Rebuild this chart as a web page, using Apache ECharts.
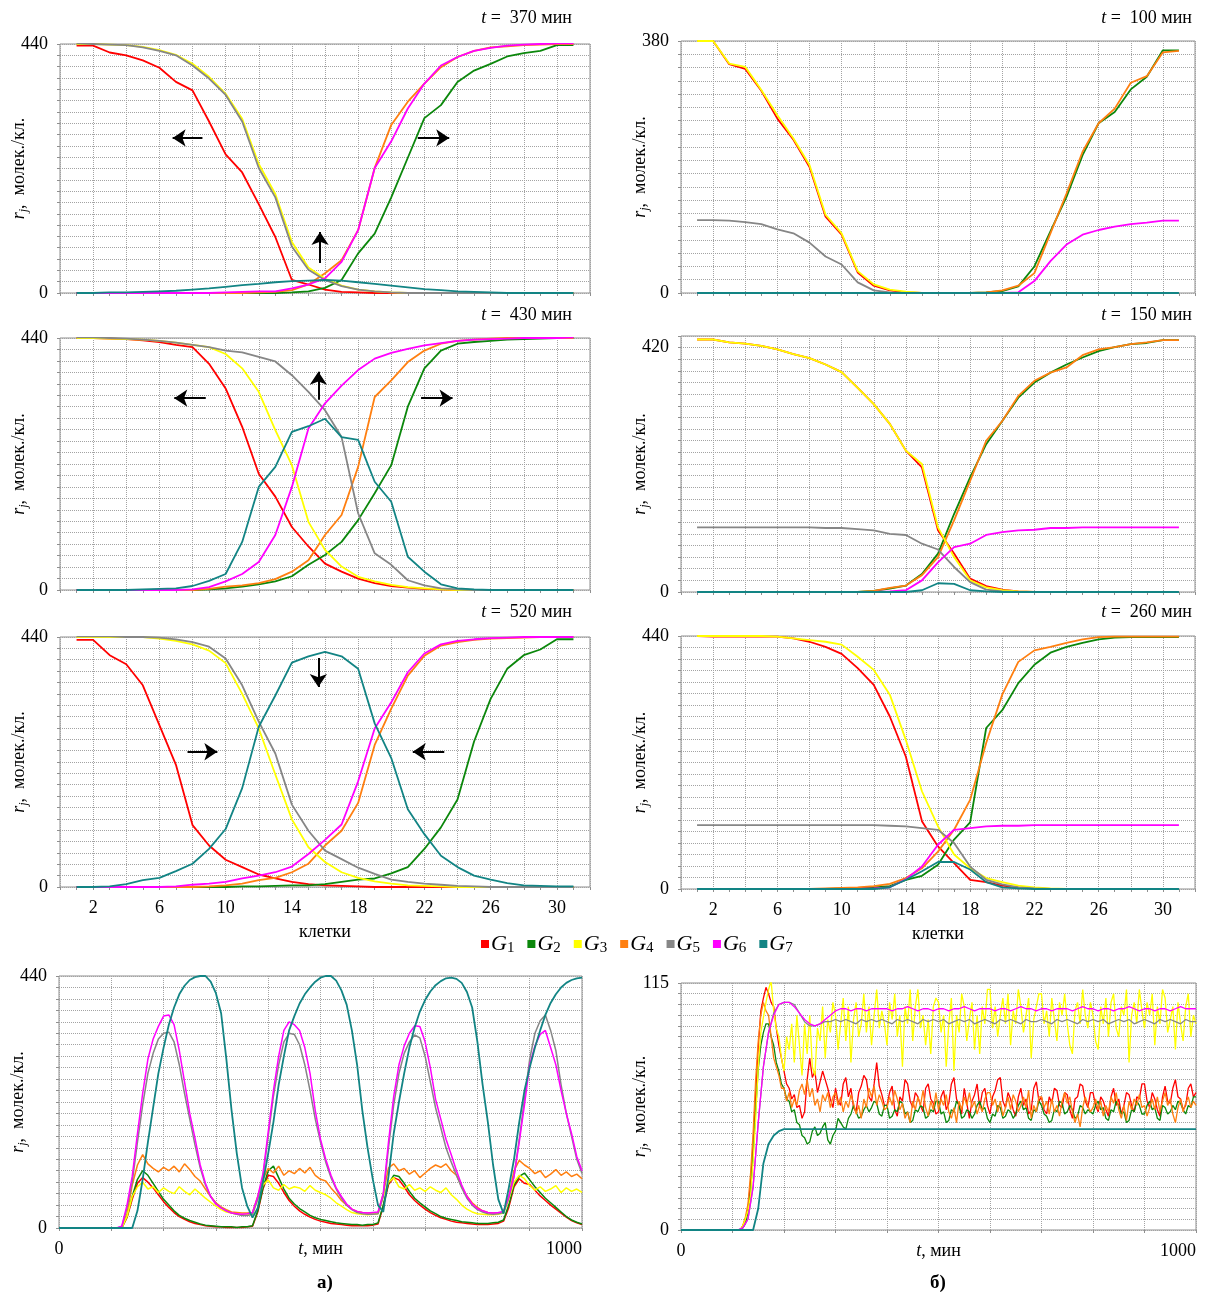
<!DOCTYPE html>
<html>
<head>
<meta charset="utf-8">
<script src="https://cdn.jsdelivr.net/npm/echarts/dist/echarts.min.js"></script>
<style>
html, body { margin: 0; padding: 0; background: #fff; }
#chart { width: 1210px; height: 1296px; }
</style>
</head>
<body>
<div id="chart"></div>
<script>
// клетки 1..31
const cells = [1,2,3,4,5,6,7,8,9,10,11,12,13,14,15,16,17,18,19,20,21,22,23,24,25,26,27,28,29,30,31];

// t = 370 мин
const r370 = [437,437,425,420,411,398,373,358,303,245,213,157,99,23,15,6,2,1,0,0,0,0,0,0,0,0,0,0,0,0,0];
const g370 = [0,0,0,0,0,0,0,0,0,0,0,0,0,1,3,9,23,70,105,169,239,309,332,373,393,405,418,424,428,438,438];
const y370 = [440,440,439,438,435,429,421,405,382,352,308,228,175,90,45,25,13,6,3,1,0,0,0,0,0,0,0,0,0,0,0];
const o370 = [0,0,0,0,0,0,0,0,0,0,0,1,2,5,15,35,58,111,221,297,338,370,399,417,428,434,436,438,439,440,440];
const gr370 = [441,440,439,438,434,428,420,402,379,350,303,221,169,82,41,23,12,6,3,1,0,0,0,0,0,0,0,0,0,0,0];
const m370 = [0,0,0,0,0,0,0,0,0,1,2,3,3,8,15,26,55,111,221,268,326,370,402,417,428,433,437,439,440,441,441];
const t370 = [0,0,1,1,2,3,4,6,8,11,14,16,19,21,22,23,22,19,16,13,10,7,5,3,2,1,0,0,0,0,0];

// t = 430 мин
const r430 = [440,440,439,438,436,433,428,424,395,352,285,203,163,110,76,46,32,20,12,7,4,2,1,0,0,0,0,0,0,0,0];
const g430 = [0,0,0,0,0,0,0,0,1,3,6,10,15,24,44,61,84,122,169,218,320,387,418,430,433,435,437,438,439,440,440];
const y430 = [440,440,439,438,437,435,432,428,424,412,387,346,279,218,119,70,41,23,15,9,5,3,1,0,0,0,0,0,0,0,0];
const o430 = [0,0,0,0,0,0,0,0,2,6,8,12,19,32,52,96,131,215,337,366,398,418,430,435,437,439,440,440,440,440,440];
const gr430 = [441,441,440,439,437,435,432,428,424,418,415,407,399,375,346,314,267,134,64,44,17,8,3,1,0,0,0,0,0,0,0];
const m430 = [0,0,0,0,0,0,0,1,5,15,28,49,96,180,282,326,357,384,404,414,421,427,431,435,437,438,439,440,440,440,441];
const t430 = [0,0,0,0,1,2,3,7,16,28,84,180,215,276,286,299,267,262,189,154,58,32,10,3,1,0,0,0,0,0,0];

// t = 520 мин
const r520 = [435,435,408,392,355,285,215,109,73,48,35,22,15,9,5,3,2,1,0,0,0,0,0,0,0,0,0,0,0,0,0];
const g520 = [0,0,0,0,0,0,0,0,0,0,1,1,2,3,3,5,9,13,15,24,35,67,105,154,256,331,384,408,418,436,436];
const y520 = [440,440,440,440,440,437,433,427,416,394,340,279,198,119,70,44,26,16,10,6,3,2,1,0,0,0,0,0,0,0,0];
const o520 = [0,0,0,0,0,0,0,0,1,3,6,12,16,26,41,73,99,148,250,314,372,407,425,431,435,437,438,439,440,440,440];
const gr520 = [441,441,441,440,440,439,436,431,423,402,355,291,235,145,99,64,49,34,23,13,9,6,4,2,1,0,0,0,0,0,0];
const m520 = [0,0,0,0,0,0,1,4,6,9,15,20,26,36,58,83,110,186,279,325,378,411,427,433,436,438,439,440,440,440,440];
const t520 = [0,0,1,5,12,16,28,41,67,102,174,282,337,395,406,414,406,384,288,227,137,93,55,35,20,13,7,3,2,1,1];

// t = 100 мин
const r100 = [380,380,345,338,305,263,231,190,115,88,31,11,4,1,0,0,0,0,0,0,0,0,0,0,0,0,0,0,0,0,0];
const g100 = [0,0,0,0,0,0,0,0,0,0,0,0,0,0,0,0,0,0,1,3,10,40,93,145,208,256,273,307,326,366,366];
const y100 = [380,380,346,341,306,268,233,193,118,90,33,13,5,2,0,0,0,0,0,0,0,0,0,0,0,0,0,0,0,0,0];
const o100 = [0,0,0,0,0,0,0,0,0,0,0,0,0,0,0,0,0,0,1,4,11,30,90,150,213,256,278,317,327,363,365];
const gr100 = [110,110,109,107,104,96,90,76,55,43,16,4,1,0,0,0,0,0,0,0,0,0,0,0,0,0,0,0,0,0,0];
const m100 = [0,0,0,0,0,0,0,0,0,0,0,0,0,0,0,0,0,0,0,0,1,18,48,73,88,95,100,104,106,109,109];
const t100 = [0,0,0,0,0,0,0,0,0,0,0,0,0,0,0,0,0,0,0,0,0,0,0,0,0,0,0,0,0,0,0];

// t = 150 мин
const r150 = [434,434,429,427,423,417,409,402,391,378,351,323,289,243,214,106,66,23,10,4,1,0,0,0,0,0,0,0,0,0,0];
const g150 = [0,0,0,0,0,0,0,0,0,0,0,2,6,11,31,66,134,197,254,294,334,360,377,391,403,414,421,426,428,433,433];
const y150 = [434,434,429,427,423,417,409,402,391,378,351,323,289,243,220,111,60,20,8,3,1,0,0,0,0,0,0,0,0,0,0];
const o150 = [0,0,0,0,0,0,0,0,0,0,0,2,7,11,29,60,123,191,260,294,337,363,377,386,407,417,421,426,429,433,433];
const gr150 = [111,111,111,111,111,111,111,111,110,110,108,106,100,98,83,73,43,17,4,1,0,0,0,0,0,0,0,0,0,0,0];
const m150 = [0,0,0,0,0,0,0,0,0,0,0,0,1,3,20,51,77,83,98,103,106,107,110,110,111,111,111,111,111,111,111];
const t150 = [0,0,0,0,0,0,0,0,0,0,0,0,0,0,3,15,14,3,1,0,0,0,0,0,0,0,0,0,0,0,0];

// t = 260 мин
const r260 = [440,439,439,439,439,439,436,430,421,409,384,355,300,230,118,74,45,16,12,6,3,1,0,0,0,0,0,0,0,0,0];
const g260 = [0,0,0,0,0,0,0,0,0,1,2,3,5,16,23,42,86,116,280,311,358,390,411,421,428,434,437,438,438,438,438];
const y260 = [440,440,440,440,440,439,436,433,430,425,404,381,338,259,170,109,60,36,19,12,6,3,1,0,0,0,0,0,0,0,0];
const o260 = [0,0,0,0,0,0,0,0,1,2,3,5,9,19,36,65,103,155,254,338,395,415,421,428,434,438,439,439,439,439,439];
const gr260 = [111,111,111,111,111,111,111,111,111,111,111,111,110,109,106,103,80,39,16,8,3,1,0,0,0,0,0,0,0,0,0];
const m260 = [0,0,0,0,0,0,0,0,0,0,0,1,3,17,39,77,103,106,109,110,110,111,111,111,111,111,111,111,111,111,111];
const t260 = [0,0,0,0,0,0,0,0,0,0,0,0,3,16,31,47,47,34,12,3,1,0,0,0,0,0,0,0,0,0,0];

// время, мин (шаг 10)
const times = [0,10,20,30,40,50,60,70,80,90,100,110,120,130,140,150,160,170,180,190,
  200,210,220,230,240,250,260,270,280,290,300,310,320,330,340,350,360,370,380,390,
  400,410,420,430,440,450,460,470,480,490,500,510,520,530,540,550,560,570,580,590,
  600,610,620,630,640,650,660,670,680,690,700,710,720,730,740,750,760,770,780,790,
  800,810,820,830,840,850,860,870,880,890,900,910,920,930,940,950,960,970,980,990,1000];
// время, мин (шаг 5) для шумных кривых б)
const times5 = [0,5,10,15,20,25,30,35,40,45,50,55,60,65,70,75,80,85,90,95,
  100,105,110,115,120,125,130,135,140,145,150,155,160,165,170,175,180,185,190,195,
  200,205,210,215,220,225,230,235,240,245,250,255,260,265,270,275,280,285,290,295,
  300,305,310,315,320,325,330,335,340,345,350,355,360,365,370,375,380,385,390,395,
  400,405,410,415,420,425,430,435,440,445,450,455,460,465,470,475,480,485,490,495,
  500,505,510,515,520,525,530,535,540,545,550,555,560,565,570,575,580,585,590,595,
  600,605,610,615,620,625,630,635,640,645,650,655,660,665,670,675,680,685,690,695,
  700,705,710,715,720,725,730,735,740,745,750,755,760,765,770,775,780,785,790,795,
  800,805,810,815,820,825,830,835,840,845,850,855,860,865,870,875,880,885,890,895,
  900,905,910,915,920,925,930,935,940,945,950,955,960,965,970,975,980,985,990,995,1000];

// а) колебания
const aG1 = [0,0,0,0,0,0,0,0,0,0, 0,0,0,18,50,78,88,80,70,58, 46,36,27,20,15,11,8,6,4,3,
  2,2,1,1,1,1,2,3,28,68, 92,90,78,62,48,38,30,24,19,15, 12,10,8,7,6,5,4,4,4,4,
  5,7,38,76,88,84,72,58,48,40, 33,27,22,18,15,12,10,9,8,7, 6,6,6,7,8,12,36,72,86,78,
  76,66,56,48,40,33,26,19,13,9, 6];
const aG2 = [0,0,0,0,0,0,0,0,0,0, 0,0,0,20,55,85,100,92,78,64, 50,40,30,22,17,13,10,7,5,4,
  3,2,2,2,1,2,2,4,30,70, 100,108,88,68,52,42,34,28,22,18, 15,13,11,9,8,7,6,6,5,6,
  6,9,40,78,92,90,78,64,52,44, 37,30,25,20,17,15,13,11,10,9, 8,8,8,9,10,14,40,75,90,96,
  84,72,62,52,44,36,28,20,14,10, 7];
const aG3 = [0,0,0,0,0,0,0,0,0,0, 0,0,0,20,55,72,80,68,72,62, 70,64,60,72,64,58,68,60,52,45,
  38,32,28,26,24,23,23,24,50,75, 84,70,66,76,68,72,70,64,74,66, 62,58,52,44,38,32,27,25,24,23,
  24,25,55,80,88,72,68,76,66,70, 64,72,66,62,70,58,50,40,33,28, 25,24,23,23,24,26,50,80,92,86,
  74,66,72,64,68,74,62,70,64,68, 62];
const aG4 = [0,0,0,0,0,0,0,0,0,0, 0,0,0,25,75,110,128,112,104,98, 106,100,108,98,112,102,90,82,68,55,
  44,37,32,28,27,26,26,27,55,85, 104,96,108,92,100,95,104,96,106,92, 85,82,70,60,48,40,33,29,27,26,
  26,27,60,105,112,100,104,94,100,88, 96,104,110,106,112,100,92,72,56,44, 36,30,27,26,26,28,55,100,118,110,
  104,95,100,88,94,102,92,98,90,94, 86];
const aG5 = [0,0,0,0,0,0,0,0,0,0, 0,0,2,35,80,150,215,270,305,330, 340,342,325,285,235,190,145,105,75,55,
  42,35,30,26,24,22,22,24,50,90, 160,230,285,325,340,338,320,285,240,190, 150,115,88,68,52,40,32,27,25,24,
  24,25,55,140,215,270,305,325,337,332, 300,255,210,175,140,115,92,70,52,40, 32,28,25,24,25,27,52,90,155,225,
  295,340,362,372,345,310,250,200,160,120, 95];
const aG6 = [0,0,0,0,0,0,0,0,0,0, 0,0,3,40,90,165,235,295,330,352, 370,372,355,310,255,200,157,110,78,55,
  42,35,30,26,25,24,25,27,55,95, 168,240,300,345,360,355,345,315,270,205, 155,120,92,70,55,42,33,29,27,26,
  27,28,60,150,230,285,318,340,353,352, 325,280,225,190,155,128,100,75,55,42, 34,30,27,26,27,29,55,90,150,215,
  285,318,338,345,315,285,240,200,165,125, 100];
const aG7 = [0,0,0,0,0,0,0,0,0,0, 0,0,0,0,0,30,85,150,210,270, 315,355,385,408,423,433,438,440,440,430,
  410,375,295,205,130,70,38,18,35,80, 130,185,250,300,345,370,392,408,420,430, 437,440,440,432,415,390,345,285,205,140,
  85,40,28,90,165,220,270,315,350,378, 398,413,424,431,436,437,435,428,412,385, 325,250,185,110,50,25,70,120,185,240,
  280,315,345,372,393,408,420,428,433,436, 437];

// б) стационарный режим, шумные кривые (шаг 5 мин)
const bG1 = [0,0,0,0,0,0,0,0,0,0,0,0,0,0,0,0,0,0,0,0,
  0,0,0,0,2,5,10,22,40,64,85,102,108,113,110,106,104,94,86,80,
  74,68,66,61,63,57,58,52,55,70,80,71,74,64,69,74,70,66,61,57,
  66,60,58,68,71,62,66,57,55,64,67,72,70,62,60,68,78,67,63,58,
  58,64,67,56,53,62,60,70,68,60,57,64,62,58,55,66,68,61,59,54,
  55,62,65,56,59,68,71,61,58,54,66,59,52,60,63,68,57,64,66,58,
  54,62,65,70,71,60,57,64,61,56,53,62,66,58,61,54,56,66,69,60,
  62,56,54,62,59,66,65,58,57,64,63,56,52,61,62,68,67,60,57,64,
  64,58,55,62,60,56,53,62,66,58,61,54,58,64,63,58,55,62,61,68,
  68,60,57,64,61,56,53,62,67,60,59,66,70,62,61,56,58,66,68,62, 64];
const bG2 = [0,0,0,0,0,0,0,0,0,0,0,0,0,0,0,0,0,0,0,0,
  0,0,0,0,1,3,8,18,35,56,75,86,92,96,96,90,86,78,74,68,
  66,61,60,55,56,50,49,44,43,40,41,46,48,44,45,48,50,42,40,44,
  46,52,50,48,47,52,54,58,55,52,53,56,58,55,57,60,59,54,53,58,
  58,52,53,56,55,60,59,54,55,50,51,56,55,58,57,52,53,56,55,60,
  60,54,55,50,51,56,55,60,58,52,53,56,55,52,54,58,60,56,57,52,
  50,54,53,58,57,52,53,56,55,52,54,58,60,56,57,52,51,56,55,60,
  58,54,53,50,51,56,55,60,59,54,55,58,56,52,53,58,57,54,56,55,
  54,58,60,56,57,52,51,56,55,60,58,54,55,50,51,56,55,60,58,54,
  54,58,60,56,57,52,51,58,57,54,55,58,56,60,59,56,54,58,57,62, 62];
const bG3 = [0,0,0,0,0,0,0,0,0,0,0,0,0,0,0,0,0,0,0,0,
  0,0,0,0,2,5,9,16,32,52,76,92,99,106,112,116,102,94,90,80,
  74,90,84,96,78,100,86,72,96,82,100,76,72,94,88,104,80,98,92,106,
  100,84,96,108,88,104,78,98,106,90,96,110,92,104,86,100,112,94,102,96,
  86,106,98,110,90,100,76,104,96,112,88,104,112,94,100,86,98,82,104,108,
  106,92,100,76,96,108,74,100,92,110,104,88,98,106,84,100,82,104,96,112,
  112,94,104,90,100,108,96,110,86,102,96,112,104,92,100,108,80,98,104,110,
  110,96,102,90,108,98,88,106,100,110,96,86,82,102,106,96,112,100,94,106,
  100,88,84,104,96,108,90,106,110,94,90,104,100,112,78,100,106,96,112,102,
  94,106,100,110,86,104,96,112,108,92,98,104,84,106,96,88,104,110,90,100, 96];
const bG4 = [0,0,0,0,0,0,0,0,0,0,0,0,0,0,0,0,0,0,0,0,
  0,0,0,0,2,6,12,26,45,70,88,100,106,102,100,90,80,76,72,66,
  66,60,64,57,61,58,65,68,63,70,62,66,58,61,55,63,60,64,57,62,
  64,58,62,55,60,57,63,59,54,58,52,61,57,66,62,67,58,63,60,56,
  57,62,58,65,61,56,59,52,55,50,60,56,62,58,65,57,53,60,56,64,
  56,61,58,63,55,52,57,50,60,56,62,58,64,57,60,54,58,55,61,64,
  64,58,61,55,60,53,57,62,56,63,60,55,58,62,57,65,52,58,55,62,
  62,57,60,54,61,55,58,53,60,64,59,62,55,50,54,48,57,62,58,55,
  57,61,56,60,53,58,55,62,59,64,56,52,58,51,60,56,61,58,63,57,
  58,53,57,61,56,62,55,60,64,58,61,54,50,57,61,55,59,62,57,60, 58];
// б) гладкие кривые (шаг 10 мин)
const bG5 = [0,0,0,0,0,0,0,0,0,0, 0,0,1,5,20,50,76,92,101,105, 106,106,105,101,97,95,95,96,97,97,
  98,97,98,97,96,98,97,98,97,98, 97,96,98,97,98,97,96,98,97,98, 97,98,96,97,98,97,98,96,97,98,
  97,96,98,97,98,97,96,98,97,97, 98,97,96,98,97,98,97,96,98,97, 98,97,98,96,97,98,97,98,96,97,
  98,97,96,98,97,98,97,96,98,97, 97];
const bG6 = [0,0,0,0,0,0,0,0,0,0, 0,0,1,5,20,50,76,92,100,105, 106,106,104,101,98,96,95,96,98,100,
  102,103,103,102,103,103,102,103,103,103, 103,102,103,103,104,103,102,103,103,102, 103,103,102,103,103,104,103,102,103,103,
  103,102,103,103,102,103,104,103,103,102, 103,103,102,103,103,103,102,103,104,103, 103,102,103,103,102,103,103,104,103,102,
  103,103,102,103,103,102,103,104,103,103, 103];
const bG7 = [0,0,0,0,0,0,0,0,0,0, 0,0,0,0,0,10,31,40,44,46, 47,47,47,47,47,47,47,47,47,47,
  47,47,47,47,47,47,47,47,47,47, 47,47,47,47,47,47,47,47,47,47, 47,47,47,47,47,47,47,47,47,47,
  47,47,47,47,47,47,47,47,47,47, 47,47,47,47,47,47,47,47,47,47, 47,47,47,47,47,47,47,47,47,47,
  47,47,47,47,47,47,47,47,47,47, 47];

const FONT = '"Liberation Serif", "DejaVu Serif", serif';
const colors = { G1: '#ff0000', G2: '#0b870b', G3: '#ffff00', G4: '#ff7f10', G5: '#868686', G6: '#ff00ff', G7: '#128484' };
const drawOrder = ['G1', 'G2', 'G4', 'G3', 'G5', 'G6', 'G7'];

const grids = [
  { left: 60, top: 44, width: 530, height: 249 },   // 370
  { left: 60, top: 338, width: 530, height: 252 },  // 430
  { left: 60, top: 637, width: 530, height: 250 },  // 520
  { left: 681, top: 41, width: 514, height: 252 },  // 100
  { left: 681, top: 336, width: 514, height: 256 }, // 150
  { left: 681, top: 636, width: 514, height: 253 }, // 260
  { left: 59, top: 976, width: 523, height: 252 },  // а)
  { left: 681, top: 983, width: 515, height: 247 }  // б)
].map(g => Object.assign({ show: true, borderColor: '#8f8f8f', borderWidth: 1 }, g));

const panels = [
  { set: { G1: r370, G2: g370, G3: y370, G4: o370, G5: gr370, G6: m370, G7: t370 },
    arrows: [[[8.6, 274], [6.8, 274]], [[21.6, 274], [23.5, 274]], [[15.7, 53], [15.7, 108]]] },
  { set: { G1: r430, G2: g430, G3: y430, G4: o430, G5: gr430, G6: m430, G7: t430 },
    arrows: [[[8.8, 335], [6.9, 335]], [[21.8, 335], [23.7, 335]], [[15.6, 332], [15.6, 381]]] },
  { set: { G1: r520, G2: g520, G3: y520, G4: o520, G5: gr520, G6: m520, G7: t520 },
    arrows: [[[7.7, 238], [9.5, 238]], [[23.2, 238], [21.3, 238]], [[15.6, 403], [15.6, 352]]] },
  { set: { G1: r100, G2: g100, G3: y100, G4: o100, G5: gr100, G6: m100, G7: t100 } },
  { set: { G1: r150, G2: g150, G3: y150, G4: o150, G5: gr150, G6: m150, G7: t150 } },
  { set: { G1: r260, G2: g260, G3: y260, G4: o260, G5: gr260, G6: m260, G7: t260 } }
];
const timeSets = [
  { G1: aG1, G2: aG2, G3: aG3, G4: aG4, G5: aG5, G6: aG6, G7: aG7 },
  { G1: bG1, G2: bG2, G3: bG3, G4: bG4, G5: bG5, G6: bG6, G7: bG7 }
];

const yMax = [440, 440, 440, 380, 440, 440, 440, 115];
const yShown = [[0, 440], [0, 440], [0, 440], [0, 380], [0, 420], [0, 440], [0, 440], [0, 115]];

const txt = { fontFamily: FONT, fontSize: 18, color: '#000' };
const rich = {
  i: { fontFamily: FONT, fontStyle: 'italic', fontSize: 18, color: '#000' },
  s: { fontFamily: FONT, fontStyle: 'italic', fontSize: 12, color: '#000', padding: [9, 0, 0, 0] },
  n: { fontFamily: FONT, fontSize: 18, color: '#000' }
};
const dotted = { type: 'dotted', color: '#a3a3a3', width: 1 };
const tick = { show: true, length: 3, lineStyle: { color: '#8f8f8f' } };

function pairs(xs, ys) {
  return xs.map((x, i) => [x, ys[i]]);
}

const xAxis = grids.map((g, i) => {
  if (i >= 6) {
    return {
      gridIndex: i, type: 'value', min: 0, max: 1000, interval: 100,
      axisLine: { show: false }, axisTick: tick,
      axisLabel: Object.assign({ margin: 12, alignMaxLabel: 'right', formatter: v => (v === 0 || v === 1000) ? String(v) : '' }, txt),
      splitLine: { show: true, lineStyle: dotted },
      name: '{i|t}{n|, мин}', nameLocation: 'middle', nameGap: 12, nameMoveOverlap: false,
      nameTextStyle: { rich: rich }
    };
  }
  const bottom = i === 2 || i === 5;
  return {
    gridIndex: i, type: 'value', min: 0, max: 32, interval: 2,
    axisLine: { show: false }, axisTick: tick,
    minorTick: { show: true, splitNumber: 2, length: 3, lineStyle: { color: '#8f8f8f' } },
    axisLabel: Object.assign({ show: bottom, margin: 12, formatter: v => (v >= 2 && (v - 2) % 4 === 0) ? String(v) : '' }, txt),
    splitLine: { show: true, lineStyle: dotted },
    name: bottom ? 'клетки' : '', nameLocation: 'middle', nameGap: 36, nameMoveOverlap: false,
    nameTextStyle: txt
  };
});

const yAxis = grids.map((g, i) => ({
  gridIndex: i, type: 'value', min: 0, max: yMax[i], interval: i === 7 ? 5 : 20,
  axisLine: { show: false }, axisTick: tick,
  axisLabel: Object.assign({ margin: 12, formatter: v => yShown[i].includes(v) ? String(v) : '' }, txt),
  splitLine: { show: true, lineStyle: dotted },
  name: '{i|r}{s|j}{n|,  молек./кл.}', nameLocation: 'middle', nameGap: 30, nameMoveOverlap: false,
  nameTextStyle: { rich: rich }
}));

const series = [];
panels.forEach((p, i) => {
  drawOrder.forEach(name => {
    series.push({
      name: name, type: 'line', xAxisIndex: i, yAxisIndex: i,
      data: pairs(cells, p.set[name]), symbol: 'none',
      lineStyle: { width: 1.8, color: colors[name] }, itemStyle: { color: colors[name] }
    });
  });
  if (p.arrows) {
    // стрелки направления движения фронтов
    series.push({
      type: 'line', xAxisIndex: i, yAxisIndex: i, data: [],
      markLine: {
        silent: true, symbol: ['none', 'arrow'], symbolSize: 13,
        label: { show: false },
        lineStyle: { color: '#000', width: 2, type: 'solid' },
        data: p.arrows.map(a => [{ coord: a[0] }, { coord: a[1] }])
      }
    });
  }
});
timeSets.forEach((set, k) => {
  drawOrder.forEach(name => {
    const xs = set[name].length === times5.length ? times5 : times;
    series.push({
      name: name, type: 'line', xAxisIndex: 6 + k, yAxisIndex: 6 + k,
      data: pairs(xs, set[name]), symbol: 'none',
      lineStyle: { width: name === 'G7' ? 1.8 : (k === 1 ? 1.3 : 1.5), color: colors[name] }, itemStyle: { color: colors[name] }
    });
  });
});

function tTitle(val, right, top) {
  return {
    text: '{i|t} =  ' + val + ' мин', right: right, top: top, padding: 0,
    textStyle: { fontFamily: FONT, fontSize: 18, fontWeight: 'normal', color: '#000', rich: rich }
  };
}

const option = {
  animation: false,
  backgroundColor: '#fff',
  title: [
    tTitle(370, 638, 9), tTitle(430, 638, 306), tTitle(520, 638, 603),
    tTitle(100, 18, 9), tTitle(150, 18, 306), tTitle(260, 18, 603)
  ],
  legend: {
    data: ['G1', 'G2', 'G3', 'G4', 'G5', 'G6', 'G7'],
    left: 476, top: 928, icon: 'rect', itemWidth: 8, itemHeight: 8, itemGap: 13,
    selectedMode: false,
    formatter: n => '{g|G}{s|' + n.slice(1) + '}',
    textStyle: {
      padding: [0, 0, 0, -3],
      rich: {
        g: { fontFamily: FONT, fontStyle: 'italic', fontSize: 22, color: '#000' },
        s: { fontFamily: FONT, fontSize: 15, color: '#000', padding: [9, 0, 0, 0] }
      }
    }
  },
  grid: grids,
  xAxis: xAxis,
  yAxis: yAxis,
  series: series,
  graphic: [
    { type: 'text', x: 325, y: 1283, style: { text: 'а)', font: 'bold 19px ' + FONT, fill: '#000', align: 'center', verticalAlign: 'middle' } },
    { type: 'text', x: 938, y: 1283, style: { text: 'б)', font: 'bold 19px ' + FONT, fill: '#000', align: 'center', verticalAlign: 'middle' } }
  ]
};

const myChart = echarts.init(document.getElementById('chart'));
myChart.setOption(option);
</script>
</body>
</html>
